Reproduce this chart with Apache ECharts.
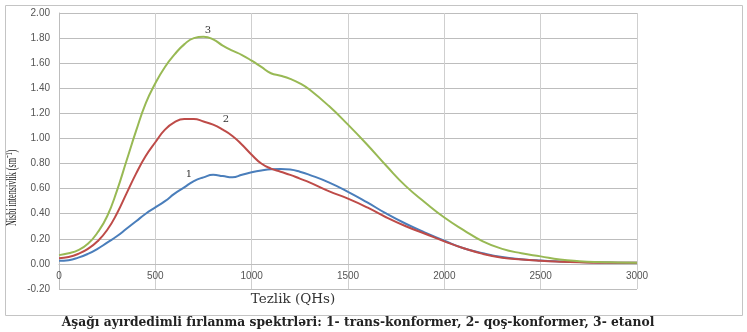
<!DOCTYPE html>
<html>
<head>
<meta charset="utf-8">
<script src="https://cdn.jsdelivr.net/npm/echarts@6/dist/echarts.min.js"></script>
<style>
  html, body { margin: 0; padding: 0; background: #fff; }
  #chart { width: 747px; height: 332px; }
</style>
</head>
<body>
<div id="chart"></div>
<script>
// tezlik (QHs)
const freq = [0, 50, 100, 150, 200, 250, 300, 350, 400, 450, 500, 550, 600, 650, 700, 750, 800, 850, 900, 950,
  1000, 1050, 1100, 1150, 1200, 1250, 1300, 1400, 1500, 1600, 1700, 1800, 1900, 2000, 2100, 2200, 2300,
  2400, 2500, 2600, 2700, 2800, 2900, 3000];

// 1 - trans-konformer
const transVals = [0.025, 0.03, 0.05, 0.08, 0.12, 0.17, 0.22, 0.28, 0.34, 0.40, 0.45, 0.50, 0.56, 0.61, 0.66, 0.69, 0.71, 0.70, 0.69, 0.71,
  0.73, 0.745, 0.755, 0.757, 0.752, 0.735, 0.71, 0.65, 0.575, 0.49, 0.40, 0.32, 0.25, 0.185, 0.125, 0.085, 0.055,
  0.038, 0.027, 0.02, 0.015, 0.012, 0.01, 0.01];
// 2 - qoş-konformer
const gaucheVals = [0.045, 0.055, 0.08, 0.12, 0.18, 0.27, 0.40, 0.56, 0.72, 0.86, 0.97, 1.07, 1.13, 1.155, 1.155, 1.135, 1.11, 1.07, 1.02, 0.95,
  0.87, 0.80, 0.76, 0.735, 0.71, 0.68, 0.65, 0.58, 0.52, 0.45, 0.37, 0.30, 0.24, 0.18, 0.125, 0.08, 0.05,
  0.035, 0.025, 0.018, 0.013, 0.01, 0.01, 0.01];
// 3 - etanol
const ethanolVals = [0.07, 0.085, 0.11, 0.16, 0.25, 0.38, 0.58, 0.82, 1.06, 1.28, 1.44, 1.57, 1.67, 1.75, 1.80, 1.81, 1.79, 1.74, 1.70, 1.665,
  1.62, 1.57, 1.52, 1.50, 1.475, 1.44, 1.39, 1.26, 1.11, 0.95, 0.78, 0.62, 0.49, 0.37, 0.27, 0.18, 0.12,
  0.085, 0.06, 0.035, 0.022, 0.015, 0.012, 0.01];

// əyri nömrələri: [x, y, mətn]
const curveTags = [[674, 0.71, "1"], [866, 1.15, "2"], [773, 1.865, "3"]];

const yTitle = "Nisbi intensivlik (sm\u207B\u00B9)";
const xTitle = "Tezlik (QHs)";
const caption = "Aşağı ayırdedimli fırlanma spektrləri: 1- trans-konformer, 2- qoş-konformer, 3- etanol";

const colors = ["#4a7ebb", "#be4b48", "#98b954"];

const chart = echarts.init(document.getElementById("chart"), null, { renderer: "canvas" });

const pairs = (vals) => freq.map((f, i) => [f, vals[i]]);

const mkSeries = (name, vals, color, tag) => ({
  name: name,
  type: "line",
  data: pairs(vals),
  smooth: 0.5,
  showSymbol: false,
  lineStyle: { color: color, width: 2 },
  itemStyle: { color: color },
  z: 3,
  markPoint: {
    symbol: "rect",
    symbolSize: 1,
    silent: true,
    itemStyle: { color: "rgba(0,0,0,0)" },
    label: {
      show: true,
      position: "inside",
      formatter: tag[2],
      color: "#333",
      fontFamily: "DejaVu Serif",
      fontSize: 10,
    },
    data: [{ coord: [tag[0], tag[1]] }],
  },
});

const option = {
  animation: false,
  grid: { left: 59, right: 110, top: 13, bottom: 43 },
  xAxis: {
    type: "value",
    position: "bottom",
    offset: -25,
    min: 0,
    max: 3000,
    interval: 500,
    axisLine: { onZero: false, lineStyle: { color: "#bdbdbd" } },
    axisTick: { show: false },
    axisLabel: { color: "#555", fontFamily: "Liberation Sans", fontSize: 10, margin: 7, formatter: (v) => String(v) },
    splitLine: { show: true, lineStyle: { color: "#cfcfcf", width: 1 } },
  },
  yAxis: {
    type: "value",
    min: -0.2,
    max: 2.0,
    interval: 0.2,
    axisLine: { show: true, lineStyle: { color: "#bdbdbd" } },
    axisTick: { show: false },
    axisLabel: {
      color: "#555",
      fontFamily: "Liberation Sans",
      fontSize: 10,
      margin: 9,
      formatter: (v) => v.toFixed(2),
    },
    splitLine: { show: true, lineStyle: { color: "#bdbdbd", width: 1 } },
  },
  series: [
    mkSeries("1", transVals, colors[0], curveTags[0]),
    mkSeries("2", gaucheVals, colors[1], curveTags[1]),
    mkSeries("3", ethanolVals, colors[2], curveTags[2]),
  ],
  graphic: [
    {
      type: "rect",
      left: 3,
      top: 3,
      shape: { width: 737, height: 310 },
      style: { fill: "none", stroke: "#c4c4c4", lineWidth: 1 },
      z: -1,
    },
    {
      type: "text",
      x: 12,
      y: 188,
      rotation: Math.PI / 2,
      scaleX: 0.58,
      style: {
        text: yTitle,
        fill: "#222",
        font: "14px 'Liberation Serif'",
        textAlign: "center",
        textVerticalAlign: "middle",
      },
    },
    {
      type: "text",
      x: 293,
      y: 299,
      style: {
        text: xTitle,
        fill: "#333",
        font: "13.5px 'DejaVu Serif'",
        textAlign: "center",
        textVerticalAlign: "middle",
      },
    },
    {
      type: "text",
      x: 358,
      y: 323,
      style: {
        text: caption,
        fill: "#222",
        font: "bold 12.3px 'DejaVu Serif'",
        textAlign: "center",
        textVerticalAlign: "middle",
      },
    },
  ],
};

chart.setOption(option);
</script>
</body>
</html>
